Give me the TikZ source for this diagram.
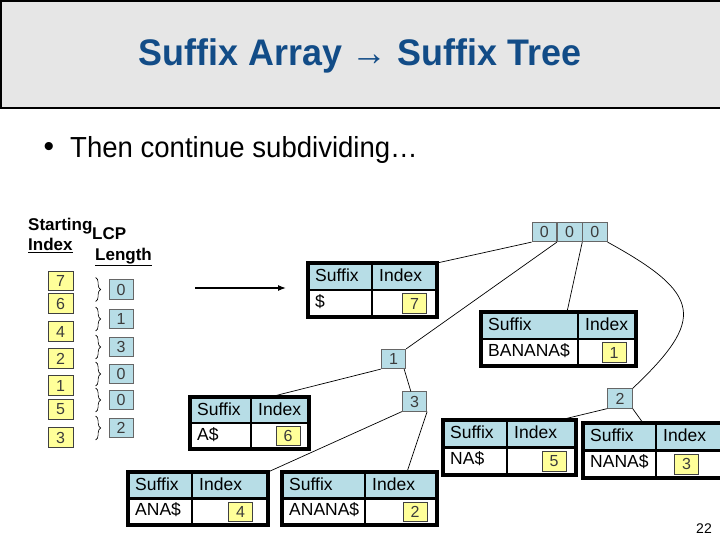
\documentclass[tikz,border=0pt]{standalone}
\usepackage{fontspec}
\setmainfont{Liberation Sans}
\usetikzlibrary{calc,decorations.pathreplacing,arrows.meta}
\definecolor{hdrblue}{RGB}{183,221,230}
\definecolor{nodeblue}{RGB}{183,221,230}
\definecolor{idxyellow}{RGB}{255,255,153}
\definecolor{titleblue}{RGB}{18,76,135}
\definecolor{titlegray}{RGB}{230,230,230}
\definecolor{numgray}{RGB}{60,60,60}
\tikzset{
  ybox/.style={draw=black!75, fill=idxyellow, line width=0.7pt, minimum width=24pt, minimum height=19.5pt, inner sep=0pt, font=\fontsize{16}{16}\selectfont, text=numgray},
  bbox/.style={draw=black!60, fill=nodeblue, line width=0.7pt, minimum width=24.6pt, minimum height=19.5pt, inner sep=0pt, font=\fontsize{16}{16}\selectfont, text=numgray},
  tbltext/.style={font=\fontsize{17.5}{17}\selectfont, inner sep=0pt, anchor=base west},
  tblshape/.style={inner sep=0pt, anchor=north west, outer sep=0pt},
  edge/.style={line width=0.7pt},
  lbl/.style={font=\fontsize{17}{17}\selectfont\bfseries, inner sep=0pt, anchor=base west},
  lcpbrace/.style={decorate, decoration={brace, amplitude=5pt}, line width=0.6pt},
}
% #1 name, #2 x0, #3 y0, #4 x1, #5 y1, #6 column x, #7 suffix, #8 index, #9 index box x
\newcommand\stable[9]{%
  \node[tblshape, minimum width={(#4-#2)*1pt}, minimum height={(#5-#3)*1pt}] (#1) at (#2,#3) {};
  \fill[hdrblue] (#1.north west) rectangle (#1.east);
  \draw[line width=2.2pt] (#1.west) -- (#1.east);
  \draw[line width=2.2pt] (#6,#3) -- (#6,#5);
  \draw[line width=3.6pt] (#1.north west) rectangle (#1.south east);
  \node[tbltext] (#1sh) at ({#2+7},{#3+18}) {Suffix};
  \node[tbltext] (#1ih) at ({#6+7},{#3+18}) {Index};
  \node[tbltext] (#1s) at ({#2+7},{#3+0.5*(#5-#3)+17}) {#7};
  \node[ybox] (#1y) at ({#9},{#3+0.75*(#5-#3)}) {#8};
}
\begin{document}
\begin{tikzpicture}[x=1pt,y=-1pt]
\useasboundingbox (0,0) rectangle (720,540);
\clip (0,0) rectangle (720,540);
\fill[white] (0,0) rectangle (720,540);
% title bar
\draw[fill=titlegray, line width=1.2pt] (1,1) rectangle (730,108);
\node[font=\fontsize{37}{37}\selectfont\bfseries, text=titleblue, xscale=0.97] (title) at (360,56) {Suffix Array → Suffix Tree};
% bullet
\node[font=\fontsize{30}{30}\selectfont, inner sep=0pt] (bul) at (49,149) {•};
\node[font=\fontsize{29}{29}\selectfont, inner sep=0pt, anchor=base west, xscale=0.95] (bt) at (70,158) {Then continue subdividing…};
% column labels
\node[lbl] (lstart) at (28,230) {Starting};
\node[lbl] (lidx) at (28,251) {\underline{Index}};
\node[lbl] (llcp) at (92,240) {LCP};
\node[lbl] (llen) at (95,260) {\underline{Length}};
% starting indices
\node[ybox, minimum width=25pt] (s7) at (60.5,281) {7};
\node[ybox, minimum width=25pt] (s6) at (60.5,303.5) {6};
\node[ybox, minimum width=25pt] (s4) at (60.5,331.5) {4};
\node[ybox, minimum width=25pt] (s2) at (60.5,358.5) {2};
\node[ybox, minimum width=25pt] (s1) at (60.5,385.5) {1};
\node[ybox, minimum width=25pt] (s5) at (60.5,409.5) {5};
\node[ybox, minimum width=25pt] (s3) at (60.5,437.5) {3};
% LCP lengths
\node[bbox, minimum width=24pt] (l1) at (121,289.5) {0};
\node[bbox, minimum width=24pt] (l2) at (121,319) {1};
\node[bbox, minimum width=24pt] (l3) at (121,347) {3};
\node[bbox, minimum width=24pt] (l4) at (121,374) {0};
\node[bbox, minimum width=24pt] (l5) at (121,400) {0};
\node[bbox, minimum width=24pt] (l6) at (121,428) {2};
\foreach \b in {l1,l2,l3,l4,l5,l6}{
  \draw[lcpbrace] ($(\b.west)+(-13,-12)$) -- ($(\b.west)+(-13,12)$);
}
% arrow
\coordinate (aS) at (195,288);
\coordinate (aE) at (286,288);
\draw[-{Latex[length=8pt,width=6pt]}, line width=1.2pt] (aS) -- (aE);
% tables
\stable{t7}{308}{263}{437}{317}{372}{\$}{7}{414.5}
\stable{t6}{190}{397}{309}{449}{251}{A\$}{6}{288}
\stable{t1}{481}{312}{636}{366}{578}{BANANA\$}{1}{614}
\stable{t5}{443}{420}{576}{475}{507}{NA\$}{5}{554}
\stable{t3}{583}{423}{729}{478}{656}{NANA\$}{3}{686.5}
\stable{t4}{128}{472}{268}{525}{192}{ANA\$}{4}{240.5}
\stable{t2}{282}{472}{437}{525}{365}{ANANA\$}{2}{415}
% tree nodes
\node[bbox] (r1) at (544.3,232) {0};
\node[bbox, anchor=west] (r2) at (r1.east) {0};
\node[bbox, anchor=west] (r3) at (r2.east) {0};
\node[bbox] (n1) at (393.5,359) {1};
\node[bbox] (n3) at (414.5,401.5) {3};
\node[bbox] (n2) at (620,398.5) {2};
% tree edges
\draw[edge] (r1.south west) -- (t7.north east);
\draw[edge] (r2.south west) -- (n1.north east);
\draw[edge] (r3.south west) -- ($(t1.north west)+(86,0)$);
\draw[edge] (r3.south east) .. controls (702,294) and (706,319) .. (n2.north east);
\draw[edge] (n1.south west) -- ($(t6.north west)+(80,0)$);
\draw[edge] ($(n1.south east)+(-2,0)$) -- ($(n3.north west)+(9,0)$);
\draw[edge] (n3.south west) -- (t4.north east);
\draw[edge] (n3.south east) -- ($(t2.north west)+(125,0)$);
\draw[edge] (n2.south west) -- ($(t5.north west)+(117,0)$);
\draw[edge] (n2.south east) -- ($(t3.north west)+(60,0)$);
% page number
\node[font=\fontsize{14}{14}\selectfont, inner sep=0pt, anchor=base east] (pg) at (712,533) {22};
\end{tikzpicture}
\end{document}
